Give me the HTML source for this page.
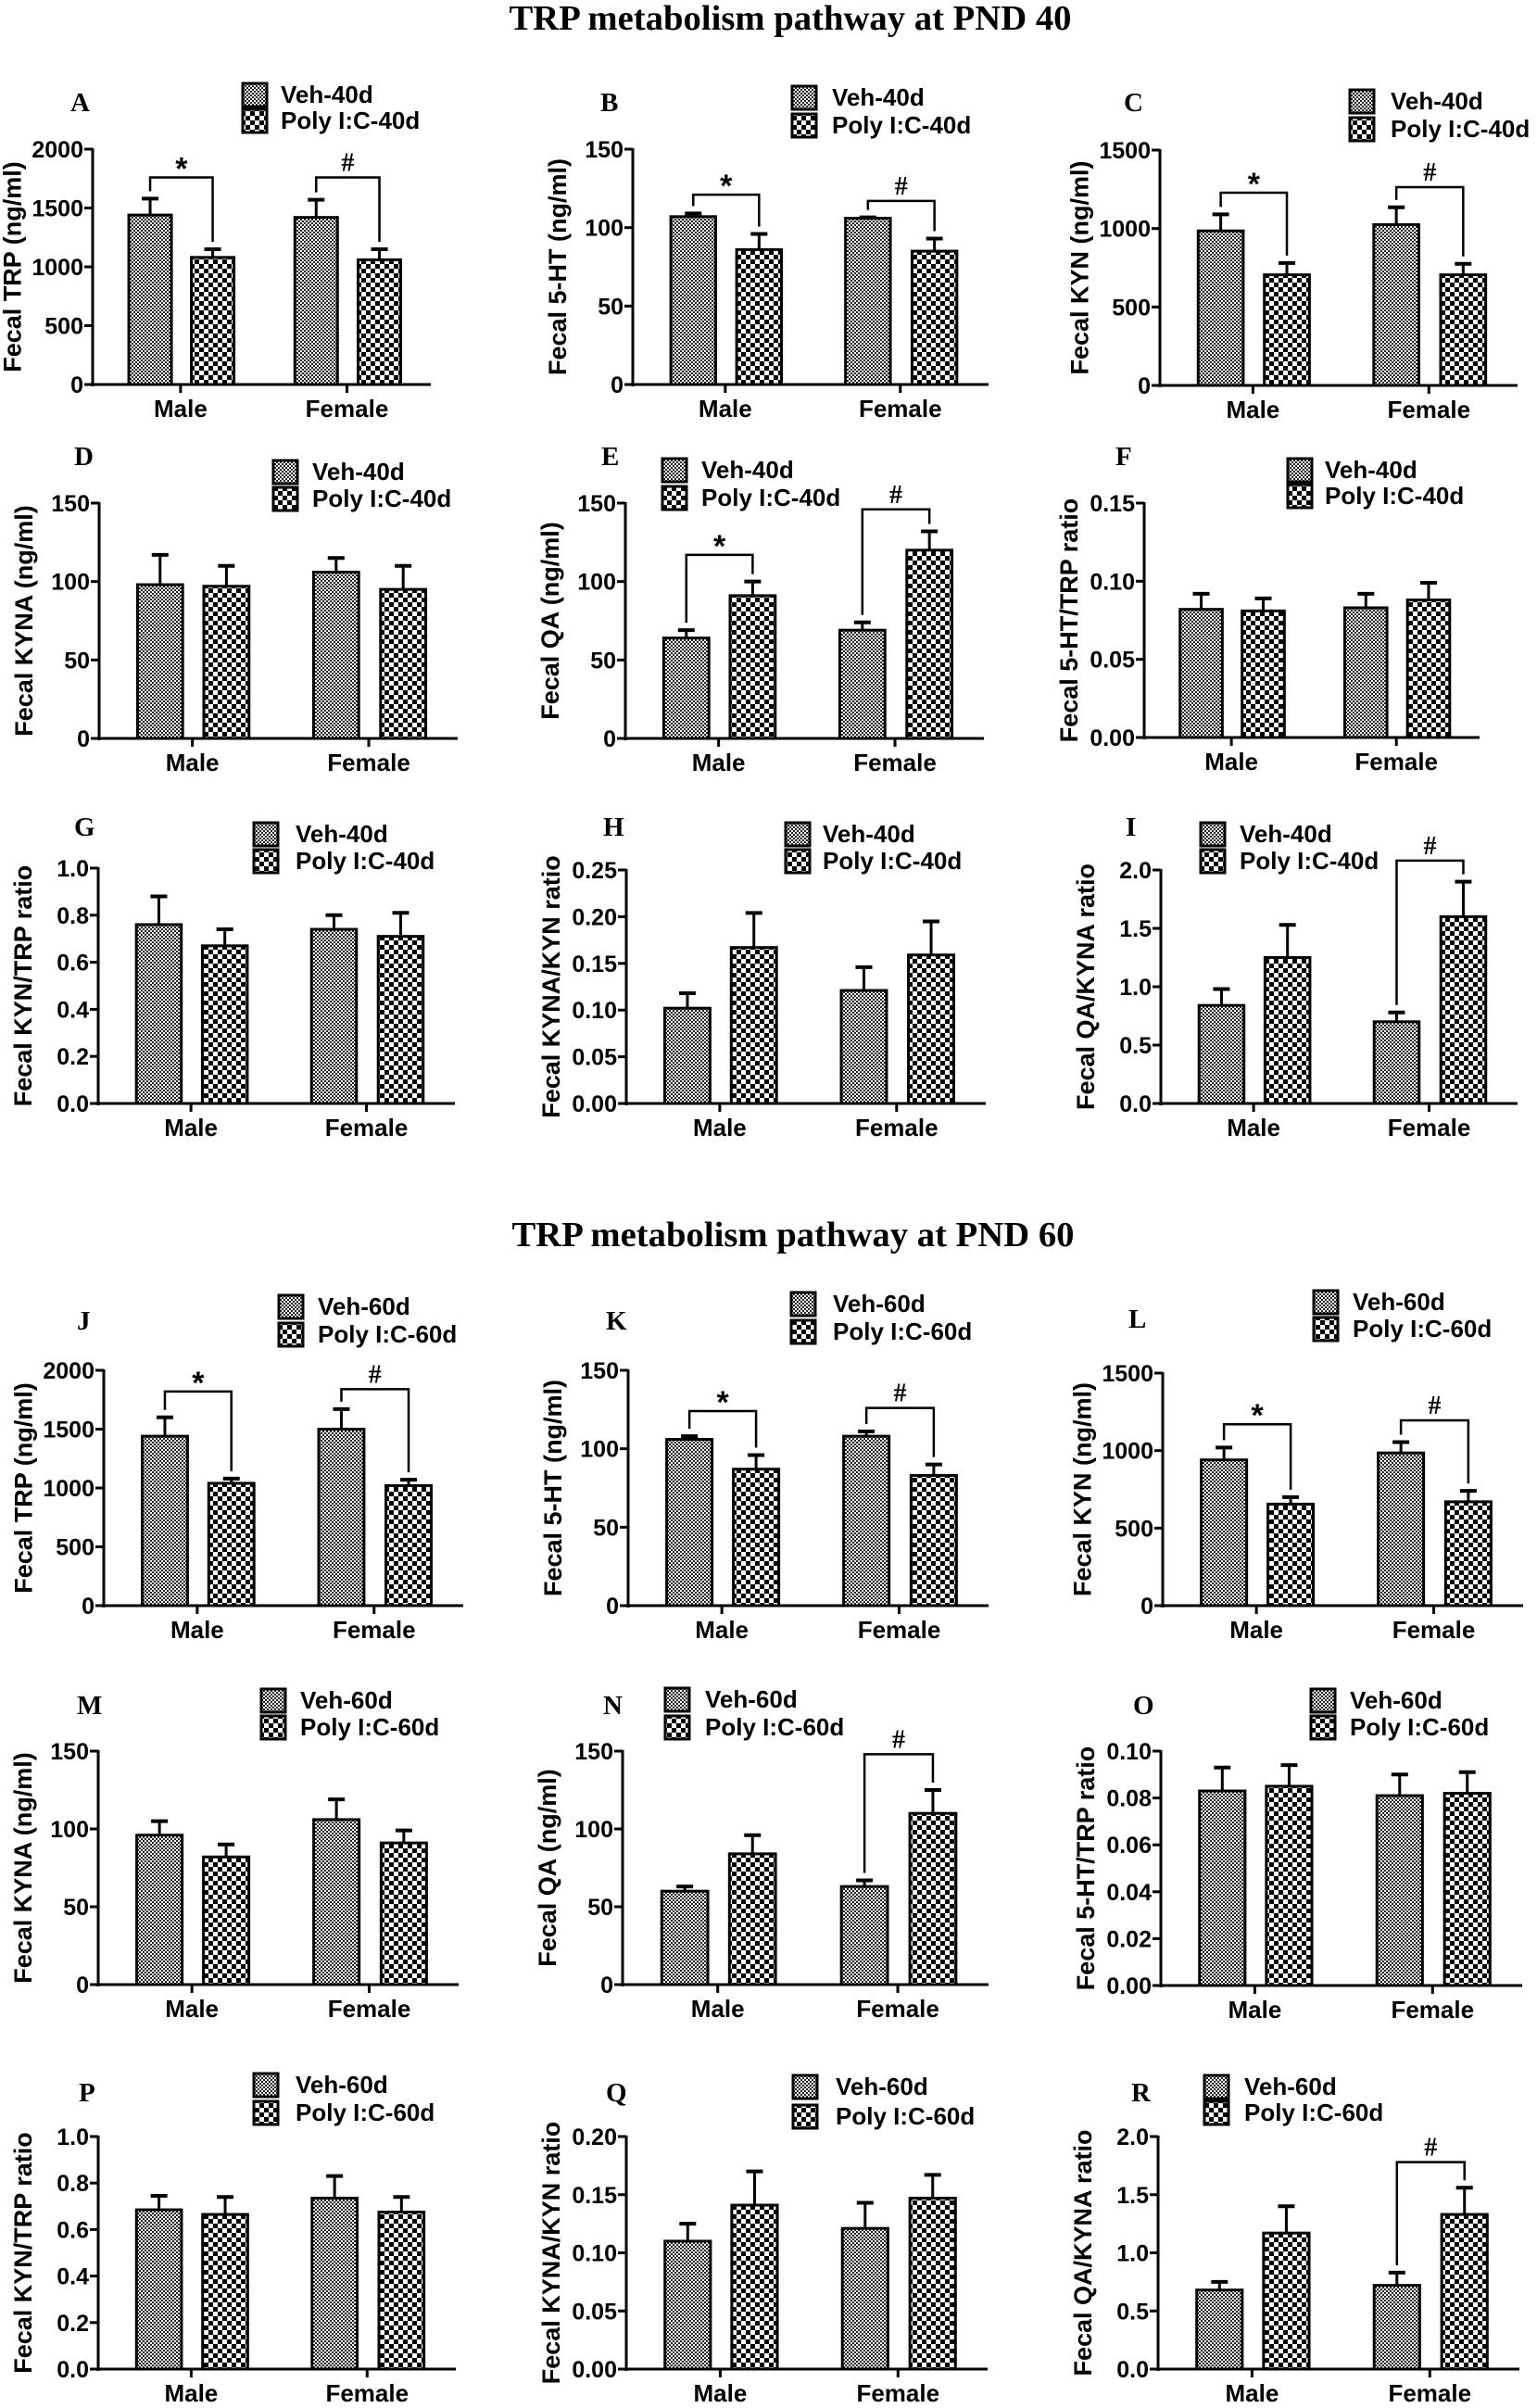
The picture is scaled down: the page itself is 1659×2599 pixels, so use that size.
<!DOCTYPE html>
<html><head><meta charset="utf-8"><title>TRP metabolism pathway</title>
<style>html,body{margin:0;padding:0;background:#fff}svg{display:block}</style></head>
<body>
<svg id="fig" xmlns="http://www.w3.org/2000/svg" width="1659" height="2599" viewBox="0 0 1659 2599">
<defs>
<pattern id="pveh" width="4" height="4" patternUnits="userSpaceOnUse"><rect width="4" height="4" fill="#fff"/><rect width="2" height="2" fill="#222"/><rect x="2" y="2" width="2" height="2" fill="#222"/></pattern>
<pattern id="ppoly" width="10" height="10" patternUnits="userSpaceOnUse"><rect width="10" height="10" fill="#fff"/><rect width="5" height="5" fill="#000"/><rect x="5" y="5" width="5" height="5" fill="#000"/></pattern>
</defs>
<rect width="1659" height="2599" fill="#fff"/>
<text x="853" y="32" text-anchor="middle" font-family="Liberation Serif, serif" font-weight="bold" font-size="38" textLength="607" lengthAdjust="spacingAndGlyphs">TRP metabolism pathway at PND 40</text>
<text x="856" y="1345" text-anchor="middle" font-family="Liberation Serif, serif" font-weight="bold" font-size="38" textLength="607" lengthAdjust="spacingAndGlyphs">TRP metabolism pathway at PND 60</text>
</svg>
<script>
const panelIds = ['A','B','C','D','E','F','G','H','I','J','K','L','M','N','O','P','Q','R'];
const yTitles = ['Fecal TRP (ng/ml)','Fecal 5-HT  (ng/ml)','Fecal KYN (ng/ml)','Fecal KYNA (ng/ml)','Fecal QA (ng/ml)','Fecal 5-HT/TRP ratio','Fecal KYN/TRP ratio','Fecal KYNA/KYN ratio','Fecal QA/KYNA ratio',
 'Fecal TRP (ng/ml)','Fecal 5-HT  (ng/ml)','Fecal KYN (ng/ml)','Fecal KYNA (ng/ml)','Fecal QA (ng/ml)','Fecal 5-HT/TRP ratio','Fecal KYN/TRP ratio','Fecal KYNA/KYN ratio','Fecal QA/KYNA ratio'];
const categories = ['Male','Female'];
const yMaxes = [2000,150,1500,150,150,0.15,1.0,0.25,2.0, 2000,150,1500,150,150,0.10,1.0,0.20,2.0];
const ySteps = [500,50,500,50,50,0.05,0.2,0.05,0.5, 500,50,500,50,50,0.02,0.2,0.05,0.5];
const tickDecimals = [0,0,0,0,0,2,1,2,1, 0,0,0,0,0,2,1,2,1];
const vehMean = [[1440,1420],[107,106],[985,1025],[98,106],[64,69],[0.082,0.083],[0.76,0.74],[0.102,0.121],[0.84,0.70],
 [1440,1500],[106,108],[940,985],[96,106],[60,63],[0.083,0.081],[0.685,0.735],[0.110,0.121],[0.68,0.72]];
const vehSem = [[140,150],[2,0.5],[105,110],[19,9],[5,5],[0.010,0.009],[0.12,0.06],[0.016,0.025],[0.14,0.08],
 [160,170],[2,3],[80,70],[9,13],[3,4],[0.010,0.009],[0.06,0.095],[0.015,0.022],[0.07,0.11]];
const polyMean = [[1080,1060],[86,85],[705,705],[97,95],[91,120],[0.081,0.088],[0.67,0.71],[0.167,0.159],[1.25,1.60],
 [1040,1020],[87,83],[655,670],[82,91],[84,110],[0.085,0.082],[0.665,0.675],[0.141,0.147],[1.17,1.33]];
const polySem = [[70,90],[10,8],[75,70],[13,15],[9,12],[0.008,0.011],[0.07,0.10],[0.037,0.036],[0.28,0.30],
 [40,50],[9,7],[45,70],[8,8],[12,15],[0.009,0.009],[0.075,0.065],[0.029,0.020],[0.23,0.23]];
const sigMarks = [['*','#'],['*','#'],['*','#'],[null,null],['*','#'],[null,null],[null,null],[null,null],[null,'#'],
 ['*','#'],['*','#'],['*','#'],[null,null],[null,'#'],[null,null],[null,null],[null,null],[null,'#']];
const sigLevels = [[1760,1760],[121,117],[1228,1264],[0,0],[117,146],[0,0],[0,0],[0,0],[0,2.08],
 [1820,1840],[124,126],[1170,1195],[0,0],[0,148],[0,0],[0,0],[0,0],[0,1.78]];
const legendLabels40 = ['Veh-40d','Poly I:C-40d'];
const legendLabels60 = ['Veh-60d','Poly I:C-60d'];

// layout (pixel geometry, not data)
const L = {
 ax:[100,683,1252,107,675,1235,106,676,1253,112,678,1255,106,672,1253,106,676,1250],
 xlen:[365,384,386,387,387,362,385,388,385,388,389,389,389,395,390,386,390,390],
 top:[161,161,162,543,543,543,937,939,939,1479,1479,1482,1890,1890,1890,2306,2306,2306],
 zero:[415,415,416,797,797,796,1191,1191,1191,1733,1733,1733,2142,2142,2143,2557,2557,2557],
 letter:[[76,120],[648,120],[1213,120],[80,502],[649,502],[1204,502],[80,902],[651,902],[1215,902],[83,1435],[654,1435],[1218,1433],[83,1850],[651,1850],[1223,1850],[85,2268],[654,2268],[1221,2268]],
 legend:[[262,90,118,303],[855,93,123,898],[1457,97,127,1501],[295,497,526,337],[715,495,525,757],[1390,495,523,1430],[274,888,917,319],[848,888,917,888],[1296,888,917,1338],[301,1398,1428,343],[854,1395,1425,899],[1418,1393,1422,1460],[282,1823,1852,324],[718,1822,1852,761],[1415,1823,1852,1457],[274,2238,2268,319],[856,2240,2272,902],[1300,2240,2268,1343]]
};
const NS='http://www.w3.org/2000/svg';
const svg=document.getElementById('fig');
function mk(tag, attrs, parent){const e=document.createElementNS(NS,tag);for(const k in attrs)e.setAttribute(k,attrs[k]);(parent||svg).appendChild(e);return e;}
const SANS='Liberation Sans, Arial, sans-serif';
for(let p=0;p<panelIds.length;p++){
 const g=mk('g',{});
 
 
 const ax=L.ax[p], xlen=L.xlen[p], top=L.top[p], zero=L.zero[p];
 const yMax=yMaxes[p];
 const yS=v=>zero-(v/yMax)*(zero-top);
 const xF=f=>ax+f*xlen;
 const lt=mk('text',{x:L.letter[p][0],y:L.letter[p][1],'font-family':'Liberation Serif, serif','font-weight':'bold','font-size':29},g);
 lt.textContent=panelIds[p];
 
 
 const lg=L.legend[p];
 const labs=p<9?legendLabels40:legendLabels60;
 for(let s=0;s<2;s++){
  const by=s===0?lg[1]:lg[2];
  const r=mk('rect',{x:lg[0],y:by,width:26,height:25,fill:s===0?'url(#pveh)':'url(#ppoly)',stroke:'#000','stroke-width':3},g);
  
  
  const t=mk('text',{x:lg[3],y:by+21,'font-family':SANS,'font-weight':'bold','font-size':26},g);
  t.textContent=labs[s];
  
  
 }
 const nT=Math.round(yMax/ySteps[p]);
 let maxTickW=0;
 for(let i=0;i<=nT;i++){
  const v=i*ySteps[p]; const y=yS(v);
  mk('line',{x1:ax-9,x2:ax,y1:y,y2:y,stroke:'#000','stroke-width':3},g);
  const t=mk('text',{x:ax-10,y:y+9,'text-anchor':'end','font-family':SANS,'font-weight':'bold','font-size':25},g);
  t.textContent=v.toFixed(tickDecimals[p]);
  
  
  maxTickW=Math.max(maxTickW,t.getComputedTextLength());
 }
 const cx=Math.min(ax-82, ax-10-maxTickW-22), cy=(top+zero)/2;
 const yt=mk('text',{x:0,y:0,'text-anchor':'middle','font-family':SANS,'font-weight':'bold','font-size':27,transform:'translate('+(cx+10)+','+cy+') rotate(-90)'},g);
 yt.textContent=yTitles[p];
 
 
 if(yt.getComputedTextLength()>292){yt.setAttribute('textLength',292);yt.setAttribute('lengthAdjust','spacingAndGlyphs');}
 const offs=[[0.107,0.292],[0.598,0.785]];
 const bw=0.126*xlen;
 const errTops=[[0,0],[0,0]], centers=[[0,0],[0,0]];
 for(let c=0;c<2;c++){
  for(let s=0;s<2;s++){
   const m=s===0?vehMean[p][c]:polyMean[p][c];
   const e=s===0?vehSem[p][c]:polySem[p][c];
   const x0=xF(offs[c][s]); const xc=x0+bw/2;
   const yT=yS(m), yE=yS(m+e);
   centers[c][s]=xc; errTops[c][s]=yE;
   mk('line',{x1:xc,x2:xc,y1:yT,y2:yE,stroke:'#000','stroke-width':3},g);
   mk('line',{x1:xc-9,x2:xc+9,y1:yE,y2:yE,stroke:'#000','stroke-width':4},g);
   const r=mk('rect',{x:x0,y:yT,width:bw,height:zero-yT,fill:s===0?'url(#pveh)':'url(#ppoly)',stroke:'#000','stroke-width':3},g);
   
   
  }
 }
 mk('line',{x1:ax,x2:ax,y1:top-1,y2:zero+2,stroke:'#000','stroke-width':3},g);
 mk('line',{x1:ax-2,x2:ax+xlen,y1:zero,y2:zero,stroke:'#000','stroke-width':3},g);
 const tf=[0.26,0.752];
 for(let c=0;c<2;c++){
  const x=xF(tf[c]);
  mk('line',{x1:x,x2:x,y1:zero,y2:zero+9,stroke:'#000','stroke-width':3},g);
  const t=mk('text',{x:x,y:zero+35,'text-anchor':'middle','font-family':SANS,'font-weight':'bold','font-size':26},g);
  t.textContent=categories[c];
  
  
 }
 for(let c=0;c<2;c++){
  const mark=sigMarks[p][c]; if(!mark) continue;
  const by=yS(sigLevels[p][c]);
  const x1=centers[c][0], x2=centers[c][1];
  mk('polyline',{points:x1+','+(errTops[c][0]-8)+' '+x1+','+by+' '+x2+','+by+' '+x2+','+(errTops[c][1]-8),fill:'none',stroke:'#000','stroke-width':2.5},g);
  const t=mk('text',{x:(x1+x2)/2,y:by-(mark==='*'?-2:7),'text-anchor':'middle','font-family':mark==='*'?SANS:'Liberation Serif, serif','font-weight':'bold','font-size':mark==='*'?34:28},g);
  t.textContent=mark;
  
  
 }
}
</script>
</body></html>
